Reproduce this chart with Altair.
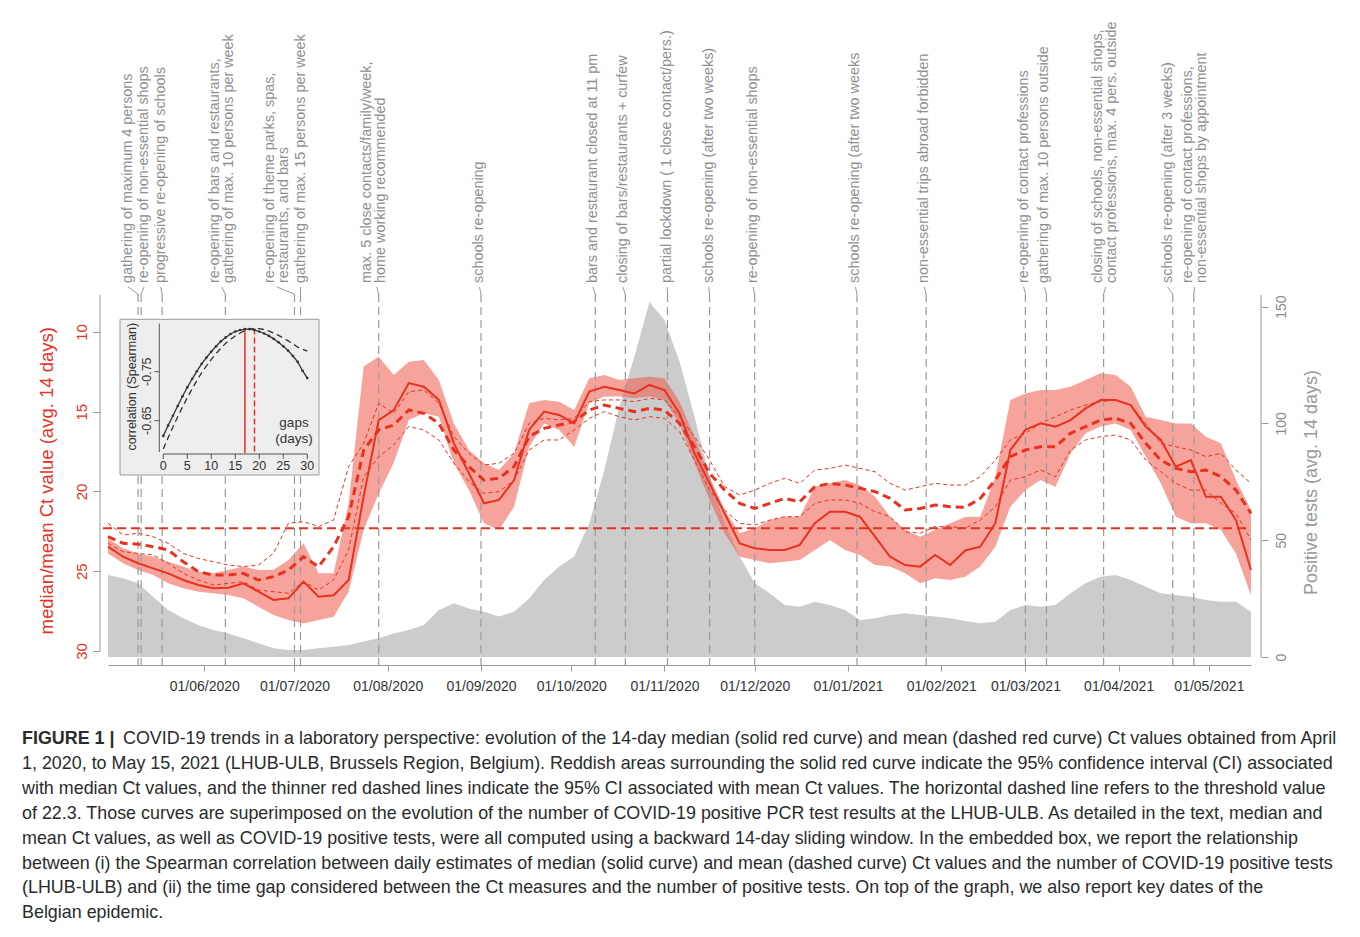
import altair as alt
import pandas as pd

FONT = "Liberation Sans"
RED = "#e8311f"
GREY_TXT = "#8f8f8f"

# ---------------- data ----------------
# 5-day sampling grid, 2020-04-30 .. 2021-05-15
grid_start = pd.Timestamp("2020-04-30")
dates = [(grid_start + pd.Timedelta(days=5 * i)).strftime("%Y-%m-%d") for i in range(77)]

median_ct = [23.46, 24.09, 24.5, 24.82, 25.13, 25.55, 25.86, 26.07, 26.03, 25.76, 26.28, 26.8, 26.7, 25.65, 26.6, 26.5, 25.55, 20.3, 15.52,
             14.9,
             13.2, 13.43, 14.26, 16.98, 18.86, 20.74, 20.53, 19.28, 16.14, 14.99, 15.2, 15.73, 13.74, 13.43, 13.64, 13.85, 13.32, 13.64,
             15.1,
             17.61, 19.49, 21.37, 23.25, 23.56, 23.67, 23.67, 23.35, 21.99, 21.27, 21.27, 21.58, 22.83, 24.09, 24.61, 24.71, 23.98, 24.61,
             23.7,
             23.46, 21.99, 17.4, 16.14, 15.73, 15.93, 15.52, 14.79, 14.26, 14.26, 14.58, 15.93, 16.77, 18.44, 18.03, 20.33, 20.33, 21.79, 24.92]

mean_ct = [22.83, 23.25, 23.3, 23.46, 23.67, 24.4, 25.03, 25.24, 25.24, 25.13, 25.55, 25.34, 24.92, 24.09, 24.71, 23.46, 21.58, 17.4, 16.14,
           15.83,
           14.89, 15.1, 15.73, 17.4, 18.44, 19.28, 19.17, 18.44, 16.56, 16.04, 15.83, 15.62, 14.89, 14.58, 14.79, 14.99, 14.79, 14.89,
           15.73,
           17.19, 18.86, 19.91, 20.74, 21.06, 20.74, 20.43, 20.64, 19.7, 19.49, 19.59, 19.8, 20.01, 20.43, 21.16, 21.06, 20.85, 20.95,
           21.0,
           20.43, 19.28, 17.82, 17.4, 17.19, 17.19, 16.35, 15.93, 15.52, 15.41, 15.73, 16.98, 18.03, 18.55, 18.76, 18.65, 19.07, 19.91, 21.37]

mean_ci_lo = [21.99, 22.73, 22.62, 22.83, 23.25, 23.88, 24.2, 24.4, 24.61, 24.71, 24.61, 23.88, 21.99, 21.89, 22.2, 21.79, 18.44, 16.98, 14.47,
              15.1,
              13.74, 13.64, 14.47, 16.56, 17.61, 18.34, 18.23, 17.61, 15.73, 15.41, 15.52, 15.41, 14.37, 14.26, 14.26, 14.37, 14.16, 14.26,
              15.31,
              16.56, 18.03, 19.7, 20.22, 19.91, 19.49, 19.17, 19.49, 18.65, 18.55, 18.34, 18.55, 18.76, 19.49, 19.91, 19.7, 19.49, 19.59,
              19.6,
              19.07, 18.03, 16.77, 16.35, 15.73, 15.31, 14.89, 14.58, 14.37, 14.26, 14.58, 15.73, 16.98, 17.19, 17.4, 17.82, 17.61, 18.65, 19.49]

mean_ci_hi = [23.25, 23.77, 23.88, 23.98, 24.5, 25.13, 25.55, 25.86, 25.76, 25.65, 26.18, 26.28, 26.38, 25.65, 26.18, 25.55, 23.67, 19.07, 17.82,
              17.08,
              15.93, 16.14, 16.77, 18.23, 19.38, 20.12, 20.01, 19.28, 17.4, 16.77, 16.77, 16.14, 15.41, 14.99, 15.31, 15.52, 15.31, 15.41,
              16.25,
              18.03, 19.91, 21.16, 21.99, 22.1, 21.79, 21.58, 21.58, 20.74, 20.53, 20.53, 20.74, 21.27, 21.58, 22.52, 22.62, 22.2, 22.2,
              22.3,
              21.79, 20.95, 19.28, 19.07, 18.65, 19.07, 17.4, 16.77, 16.56, 16.46, 16.77, 18.03, 18.76, 19.49, 19.91, 19.91, 20.74, 21.37, 23.04]

median_ci_lo = [22.94, 23.56, 23.88, 24.09, 24.4, 24.71, 25.03, 25.13, 24.92, 24.71, 24.92, 24.92, 24.3, 23.25, 25.13, 25.13, 20.74, 12.17, 11.55,
                12.7,
                11.86, 11.76, 13.01, 15.73, 17.4, 18.23, 18.65, 17.61, 14.47, 14.26, 14.37, 14.89, 12.9, 12.7, 13.01, 12.9, 12.8, 12.9,
                14.37,
                16.56, 19.07, 21.16, 22.62, 22.31, 21.79, 21.58, 21.58, 19.7, 19.49, 19.28, 19.59, 20.33, 21.58, 22.41, 22.83, 22.41, 21.99,
                21.6,
                21.58, 19.07, 14.26, 13.85, 13.64, 13.64, 13.43, 13.01, 12.59, 12.7, 13.43, 15.31, 15.52, 15.73, 15.73, 16.56, 16.98, 19.28, 21.16]

median_ci_hi = [23.88, 24.5, 24.92, 25.24, 25.76, 26.07, 26.28, 26.38, 26.49, 26.7, 27.22, 27.74, 28.06, 28.27, 28.06, 27.85, 26.28, 22.41, 20.12,
                18.2,
                15.52, 15.1, 15.31, 18.23, 19.91, 21.99, 22.41, 20.95, 17.19, 15.73, 16.14, 17.19, 14.47, 14.05, 14.05, 14.16, 14.05, 14.26,
                15.73,
                18.23, 20.53, 22.62, 24.09, 24.3, 24.5, 24.4, 24.3, 23.67, 23.04, 23.67, 23.98, 24.61, 24.71, 25.13, 25.76, 25.44, 25.55,
                25.34,
                24.71, 23.46, 20.95, 19.91, 19.28, 19.7, 17.61, 16.35, 15.93, 15.73, 16.14, 17.82, 19.49, 21.58, 21.99, 21.99, 22.41, 23.88, 26.5]

positive_tests = [35.1, 33.7, 31.6, 25.8, 20.1, 16.6, 13.7, 11.6, 10.1, 8.0, 5.9, 3.7, 3.0, 3.0, 3.7, 4.4, 5.1, 6.6, 8.0,
                  10.1,
                  11.6, 13.7, 20.1, 23.0, 20.8, 19.4, 17.3, 19.4, 25.1, 33.0, 38.7, 43.0, 57.3, 80.1, 107.2, 128.6, 152.0, 144.3,
                  126.5,
                  102.9, 77.2, 57.3, 43.0, 31.6, 27.3, 22.3, 21.5, 23.7, 22.3, 20.1, 15.8, 16.6, 18.0, 18.7, 18.0, 17.3, 16.6,
                  15.4,
                  14.4, 15.1, 20.1, 22.3, 21.5, 22.3, 27.3, 31.6, 34.4, 35.1, 33.0, 30.1, 27.3, 26.6, 25.8, 24.4, 23.7, 23.7, 19.4]

event_dates = ["2020-05-10", "2020-05-11", "2020-05-18", "2020-06-08", "2020-07-01", "2020-07-03",
               "2020-07-29", "2020-09-01", "2020-10-09", "2020-10-19", "2020-11-02", "2020-11-16",
               "2020-12-01", "2021-01-04", "2021-01-27", "2021-03-01", "2021-03-08", "2021-03-27",
               "2021-04-19", "2021-04-26"]
# anchor date of each label's first line
label_dates = ["2020-05-06T16:00:00Z", "2020-05-12T00:00:00Z", "2020-05-17T12:00:00Z", "2020-06-04T11:00:00Z",
               "2020-06-22T18:00:00Z", "2020-07-03T00:00:00Z", "2020-07-25T02:00:00Z", "2020-08-31T12:00:00Z",
               "2020-10-08T05:00:00Z", "2020-10-18T04:00:00Z", "2020-11-01T22:00:00Z", "2020-11-15T17:00:00Z",
               "2020-11-30T10:00:00Z", "2021-01-03T12:00:00Z", "2021-01-26T10:00:00Z", "2021-02-28T10:00:00Z",
               "2021-03-07T07:00:00Z", "2021-03-25T07:00:00Z", "2021-04-17T07:00:00Z", "2021-04-23T22:00:00Z"]
# centre date of each label block (where its connector starts)
link_dates = ["2020-05-06T16:00:00Z", "2020-05-12T00:00:00Z", "2020-05-17T12:00:00Z", "2020-06-06T20:00:00Z",
              "2020-06-25T03:00:00Z", "2020-07-03T00:00:00Z", "2020-07-28T09:00:00Z", "2020-08-31T12:00:00Z",
              "2020-10-08T05:00:00Z", "2020-10-18T04:00:00Z", "2020-11-01T22:00:00Z", "2020-11-15T17:00:00Z",
              "2020-11-30T10:00:00Z", "2021-01-03T12:00:00Z", "2021-01-26T10:00:00Z", "2021-02-28T10:00:00Z",
              "2021-03-07T07:00:00Z", "2021-03-27T17:00:00Z", "2021-04-17T07:00:00Z", "2021-04-26T05:00:00Z"]
event_labels = [
    "gathering of maximum 4 persons",
    "re-opening of non-essential shops",
    "progressive re-opening of schools",
    "re-opening of bars and restaurants,\ngathering of max. 10 persons per week",
    "re-opening of theme parks, spas,\nrestaurants, and bars",
    "gathering of max. 15 persons per week",
    "max. 5 close contacts/family/week,\nhome working recommended",
    "schools re-opening",
    "bars and restaurant closed at 11 pm",
    "closing of bars/restaurants + curfew",
    "partial lockdown ( 1 close contact/pers.)",
    "schools re-opening (after two weeks)",
    "re-opening of non-essential shops",
    "schools re-opening (after two weeks",
    "non-essential trips abroad forbidden",
    "re-opening of contact professions",
    "gathering of max. 10 persons outside",
    "closing of schools, non-essential shops,\ncontact professions, max. 4 pers. outside",
    "schools re-opening (after 3 weeks)",
    "re-opening of contact professions,\nnon-essential shops by appointment",
]

ct_threshold = 22.3
ct_ticks = [10, 15, 20, 25, 30]
test_ticks = [0, 50, 100, 150]

# inset: Spearman correlation vs. time gap
gaps = list(range(31))
rho_median = [-0.619, -0.640, -0.660, -0.680, -0.700, -0.718, -0.735, -0.751, -0.766, -0.779, -0.791,
              -0.802, -0.812, -0.820, -0.827, -0.832, -0.835, -0.837, -0.837, -0.835, -0.832,
              -0.828, -0.823, -0.817, -0.810, -0.802, -0.793, -0.782, -0.770, -0.752, -0.737]
rho_mean = [-0.592, -0.615, -0.637, -0.658, -0.678, -0.697, -0.715, -0.732, -0.748, -0.762, -0.775,
            -0.787, -0.798, -0.808, -0.816, -0.823, -0.829, -0.834, -0.837, -0.838, -0.838,
            -0.836, -0.833, -0.829, -0.824, -0.819, -0.813, -0.807, -0.800, -0.796, -0.792]
best_gap_median = 17
best_gap_mean = 19
inset_x_ticks = [0, 5, 10, 15, 20, 25, 30]
inset_y_ticks = [-0.75, -0.65]

caption_bold = "FIGURE 1 |"
caption_lines = [
    "COVID-19 trends in a laboratory perspective: evolution of the 14-day median (solid red curve) and mean (dashed red curve) Ct values obtained from April",
    "1, 2020, to May 15, 2021 (LHUB-ULB, Brussels Region, Belgium). Reddish areas surrounding the solid red curve indicate the 95% confidence interval (CI) associated",
    "with median Ct values, and the thinner red dashed lines indicate the 95% CI associated with mean Ct values. The horizontal dashed line refers to the threshold value",
    "of 22.3. Those curves are superimposed on the evolution of the number of COVID-19 positive PCR test results at the LHUB-ULB. As detailed in the text, median and",
    "mean Ct values, as well as COVID-19 positive tests, were all computed using a backward 14-day sliding window. In the embedded box, we report the relationship",
    "between (i) the Spearman correlation between daily estimates of median (solid curve) and mean (dashed curve) Ct values and the number of COVID-19 positive tests",
    "(LHUB-ULB) and (ii) the time gap considered between the Ct measures and the number of positive tests. On top of the graph, we also report key dates of the",
    "Belgian epidemic.",
]

# ---------------- tables ----------------
df = pd.DataFrame({"date": dates, "median": median_ct, "mean": mean_ct,
                   "mlo": mean_ci_lo, "mhi": mean_ci_hi,
                   "blo": median_ci_lo, "bhi": median_ci_hi, "tests": positive_tests})
ev = pd.DataFrame({"date": event_dates, "label_date": label_dates, "link_date": link_dates,
                   "label": event_labels})
ins = pd.DataFrame({"gap": gaps, "rmed": rho_median, "rmean": rho_mean})
one = pd.DataFrame({"k": [0]})

# ---------------- geometry ----------------
W, H = 1143, 370
CAP_FS = 17.9
CAP_Y0, CAP_DY = 444, 24.9
xs = alt.Scale(type="utc", domain=[alt.DateTime(year=2020, month=4, date=30, utc=True),
                                   alt.DateTime(year=2021, month=5, date=15, utc=True)])
ct_scale = alt.Scale(domain=[7.68, 30.878], reverse=True, nice=False, zero=False)
t_scale = alt.Scale(domain=[-3.426, 155.0], nice=False, zero=False)
ix = alt.Scale(domain=[0, 30], range=[55.3, 199.3], nice=False, zero=False)
iy = alt.Scale(domain=[-0.85, -0.55], range=[27.7, 174.7], nice=False, zero=False)

month_ticks = ([alt.DateTime(year=2020, month=m, date=1, utc=True) for m in range(6, 13)] +
               [alt.DateTime(year=2021, month=m, date=1, utc=True) for m in range(1, 6)])

x_axis = alt.Axis(orient="bottom", values=month_ticks, format="%d/%m/%Y", labelFont=FONT,
                  labelFontSize=14, labelColor="#333333", labelPadding=8, tickSize=6,
                  tickColor="#999999", domainColor="#999999", domainWidth=1, grid=False,
                  title=None, labelOverlap=False, labelFlush=False)
ct_axis = alt.Axis(orient="left", offset=8, values=ct_ticks, domain=False, tickSize=7,
                   tickColor="#999999", labelAngle=270, labelAlign="center", labelBaseline="bottom",
                   labelPadding=4, labelColor=RED, labelFontSize=15, labelFont=FONT, grid=False,
                   title=None)
t_axis = alt.Axis(orient="right", offset=10, values=test_ticks, domain=False, tickSize=7,
                  tickColor="#999999", labelAngle=270, labelAlign="center", labelBaseline="top",
                  labelPadding=6, labelColor="#8a8a8a", labelFontSize=14, labelFont=FONT, grid=False,
                  title=None)


def X(field):
    return alt.X(f"{field}:T", scale=xs, axis=None, title=None)


def YC(field):
    return alt.Y(f"{field}:Q", scale=ct_scale, axis=None, title=None)


base = alt.Chart(df)

tests_area = base.mark_area(color="#cccccc").encode(
    x=alt.X("date:T", scale=xs, axis=x_axis, title=None),
    y=alt.Y("tests:Q", scale=t_scale, axis=t_axis, title=None),
)
tests_line = alt.Chart(one).mark_rule(color="#999999", strokeWidth=1).encode(
    x=alt.value(W + 10),
    y=alt.YDatum(datum=155.0, type="quantitative", scale=t_scale, axis=None),
    y2=alt.Y2Datum(datum=0),
)

band = base.mark_area(color="#ef5a48", opacity=0.55).encode(
    x=X("date"),
    y=alt.Y("blo:Q", scale=ct_scale, axis=ct_axis, title=None),
    y2="bhi:Q",
)
ct_line = alt.Chart(one).mark_rule(color="#999999", strokeWidth=1).encode(
    x=alt.value(-8),
    y=alt.YDatum(datum=7.68, type="quantitative", scale=ct_scale, axis=None),
    y2=alt.Y2Datum(datum=30),
)

event_rules = alt.Chart(ev).mark_rule(color="#9a9a9a", strokeWidth=1.2, strokeDash=[8, 5]).encode(
    x=X("date"), y=alt.value(-1), y2=alt.value(H + 5))
event_links = alt.Chart(ev).mark_rule(color="#9a9a9a", strokeWidth=1).encode(
    x=X("link_date"), x2="date:T", y=alt.value(-8), y2=alt.value(-1))
event_text = alt.Chart(ev).mark_text(angle=270, align="left", baseline="middle", font=FONT,
                                     fontSize=14.4, color=GREY_TXT, lineBreak="\n",
                                     lineHeight=14).encode(
    x=X("label_date"), y=alt.value(-12), text="label:N")

threshold = alt.Chart(one).mark_rule(color=RED, strokeWidth=2, strokeDash=[9, 5]).encode(
    y=alt.YDatum(datum=ct_threshold, type="quantitative", scale=ct_scale, axis=None),
    x=alt.value(-5), x2=alt.value(W))

ci_lo = base.mark_line(color=RED, strokeWidth=1, strokeDash=[4, 3]).encode(x=X("date"), y=YC("mlo"))
ci_hi = base.mark_line(color=RED, strokeWidth=1, strokeDash=[4, 3]).encode(x=X("date"), y=YC("mhi"))
mean_line = base.mark_line(color=RED, strokeWidth=3, strokeDash=[8, 5]).encode(x=X("date"), y=YC("mean"))
median_line = base.mark_line(color=RED, strokeWidth=2).encode(x=X("date"), y=YC("median"))

left_title = alt.Chart(one).mark_text(angle=270, align="center", baseline="middle", font=FONT,
                                      fontSize=18.5, color=RED).encode(
    x=alt.value(-61.3), y=alt.value(185.8), text=alt.value("median/mean Ct value (avg. 14 days)"))
right_title = alt.Chart(one).mark_text(angle=270, align="center", baseline="middle", font=FONT,
                                       fontSize=18, color="#9a9a9a").encode(
    x=alt.value(1203.7), y=alt.value(187.5), text=alt.value("Positive tests (avg. 14 days)"))

# ---------------- inset ----------------
inset_box = alt.Chart(one).mark_rect(fill="#eeeeee", stroke="#9a9a9a", strokeWidth=1).encode(
    x=alt.value(12), x2=alt.value(211), y=alt.value(24.3), y2=alt.value(180))
ins_base = alt.Chart(ins)
IX = alt.X("gap:Q", scale=ix, axis=None, title=None)
best_med = alt.Chart(one).mark_rule(color=RED, strokeWidth=1.5).encode(
    x=alt.XDatum(datum=best_gap_median, type="quantitative", scale=ix, axis=None),
    y=alt.YDatum(datum=-0.838, type="quantitative", scale=iy, axis=None),
    y2=alt.Y2Datum(datum=-0.584))
best_mean = alt.Chart(one).mark_rule(color=RED, strokeWidth=1.5, strokeDash=[6, 3]).encode(
    x=alt.XDatum(datum=best_gap_mean, type="quantitative", scale=ix, axis=None),
    y=alt.YDatum(datum=-0.838, type="quantitative", scale=iy, axis=None),
    y2=alt.Y2Datum(datum=-0.584))
rmed_line = ins_base.mark_line(color="#333333", strokeWidth=1.3).encode(
    x=IX, y=alt.Y("rmed:Q", scale=iy, axis=None, title=None))
rmed_pts = ins_base.mark_circle(color="#333333", size=7, opacity=1).encode(
    x=IX, y=alt.Y("rmed:Q", scale=iy, axis=None, title=None))
rmean_line = ins_base.mark_line(color="#333333", strokeWidth=1.3, strokeDash=[6, 4]).encode(
    x=IX, y=alt.Y("rmean:Q", scale=iy, axis=None, title=None))

ixt = pd.DataFrame({"t": inset_x_ticks})
iyt = pd.DataFrame({"t": inset_y_ticks, "lab": [f"{v:.2f}" for v in inset_y_ticks]})
ix_line = alt.Chart(one).mark_rule(color="#555555", strokeWidth=1).encode(
    x=alt.XDatum(datum=0, type="quantitative", scale=ix, axis=None), x2=alt.X2Datum(datum=30),
    y=alt.value(159))
ix_ticks = alt.Chart(ixt).mark_rule(color="#555555", strokeWidth=1).encode(
    x=alt.X("t:Q", scale=ix, axis=None), y=alt.value(159), y2=alt.value(164))
ix_labels = alt.Chart(ixt).mark_text(font=FONT, fontSize=12.5, color="#333333", baseline="middle").encode(
    x=alt.X("t:Q", scale=ix, axis=None), y=alt.value(171), text="t:Q")
iy_line = alt.Chart(one).mark_rule(color="#555555", strokeWidth=1).encode(
    x=alt.value(51.3),
    y=alt.YDatum(datum=-0.848, type="quantitative", scale=iy, axis=None), y2=alt.Y2Datum(datum=-0.586))
iy_ticks = alt.Chart(iyt).mark_rule(color="#555555", strokeWidth=1).encode(
    x=alt.value(51.3), x2=alt.value(46.3), y=alt.Y("t:Q", scale=iy, axis=None))
iy_labels = alt.Chart(iyt).mark_text(font=FONT, fontSize=12.5, color="#333333", angle=270,
                                     align="center", baseline="middle").encode(
    x=alt.value(38.7), y=alt.Y("t:Q", scale=iy, axis=None), text="lab:N")
iy_title = alt.Chart(one).mark_text(font=FONT, fontSize=12.5, color="#333333", angle=270,
                                    align="center", baseline="middle").encode(
    x=alt.value(23.7), y=alt.value(91.7), text=alt.value("correlation (Spearman)"))
gaps_text = alt.Chart(one).mark_text(font=FONT, fontSize=13.5, color="#333333", align="center",
                                     baseline="middle", lineBreak="\n", lineHeight=16).encode(
    x=alt.value(186), y=alt.value(128), text=alt.value("gaps\n(days)"))

# ---------------- caption ----------------
cap_bold = alt.Chart(one).mark_text(font=FONT, fontSize=CAP_FS, fontWeight="bold", color="#2b2b2b",
                                    align="left", baseline="middle").encode(
    x=alt.value(-86), y=alt.value(CAP_Y0), text=alt.value(caption_bold))
cap_rest = alt.Chart(pd.DataFrame({"line": [caption_lines[0]]})).mark_text(
    font=FONT, fontSize=CAP_FS, color="#2b2b2b", align="left", baseline="middle").encode(
    x=alt.value(15), y=alt.value(CAP_Y0), text="line:N")
cap_other = [
    alt.Chart(pd.DataFrame({"line": [ln]})).mark_text(
        font=FONT, fontSize=CAP_FS, color="#2b2b2b", align="left", baseline="middle").encode(
        x=alt.value(-86), y=alt.value(CAP_Y0 + CAP_DY * (i + 1)), text="line:N")
    for i, ln in enumerate(caption_lines[1:])
]

chart = alt.layer(
    tests_area, tests_line, band, ct_line, event_rules, event_links, event_text,
    threshold, ci_lo, ci_hi, mean_line, median_line, left_title, right_title,
    inset_box, best_med, best_mean, rmean_line, rmed_line, rmed_pts,
    ix_line, ix_ticks, ix_labels, iy_line, iy_ticks, iy_labels, iy_title, gaps_text,
    cap_bold, cap_rest, *cap_other,
).resolve_scale(x="independent", y="independent").properties(
    width=W, height=H,
    autosize=alt.AutoSizeParams(type="none"),
    padding={"left": 100, "top": 287, "right": 101, "bottom": 259},
).configure_view(stroke=None)

chart.save("out.html", embed_options={"renderer": "svg", "actions": False})
